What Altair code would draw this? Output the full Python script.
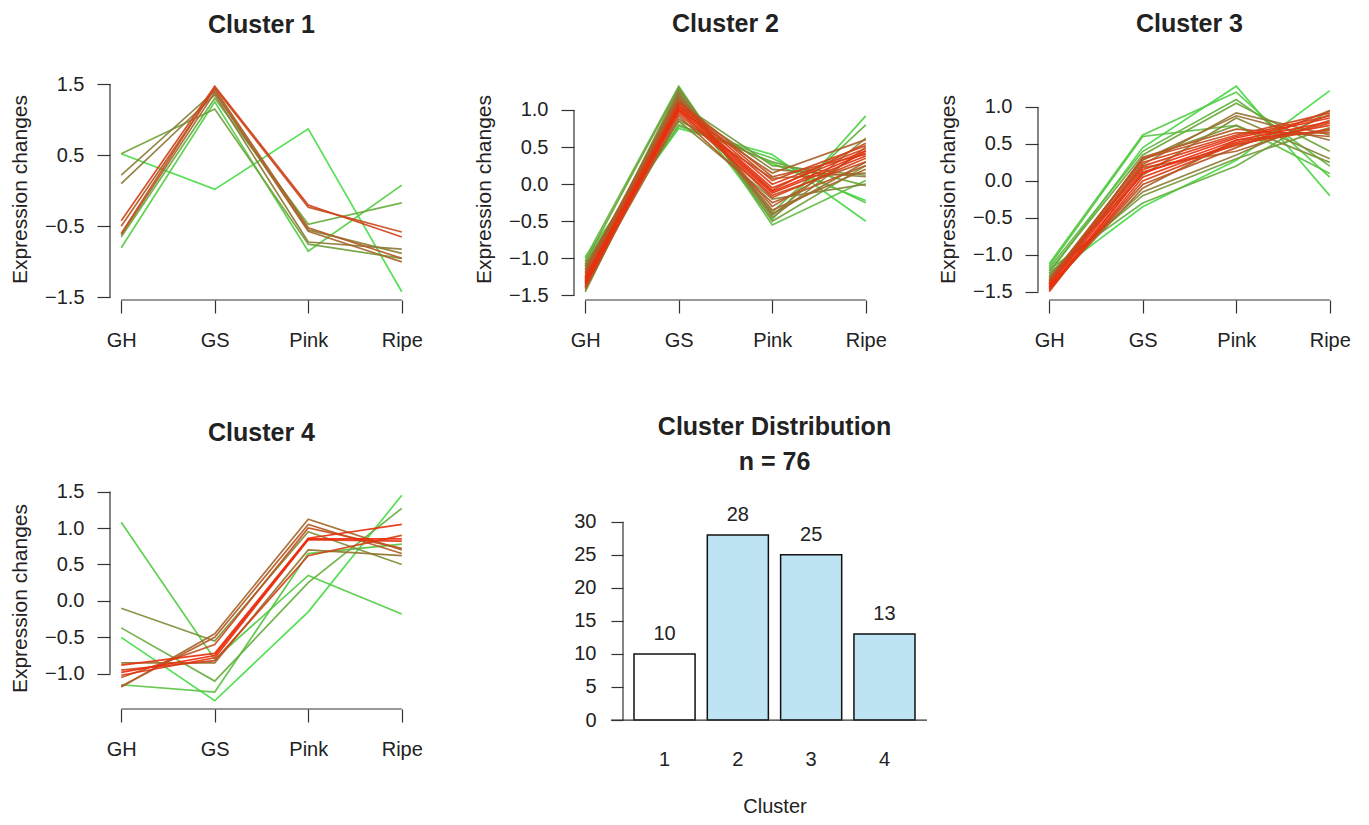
import altair as alt
import pandas as pd

FONT = "Liberation Sans"
TXT = "#222222"
AX = "#333333"

stages = ["GH", "GS", "Pink", "Ripe"]

# ---- Cluster 1 (10 genes) ----
c1_mem  = [0.30, 0.35, 0.45, 0.50, 0.60, 0.62, 0.70, 0.75, 0.80, 0.85]
c1_gh   = [0.52, -0.80, -0.65, 0.52, 0.22, 0.10, -0.62, -0.50, -0.60, -0.42]
c1_gs   = [0.02, 1.25, 1.30, 1.15, 1.40, 1.35, 1.38, 1.43, 1.45, 1.47]
c1_pink = [0.87, -0.85, -0.47, -0.75, -0.55, -0.72, -0.57, -0.52, -0.23, -0.20]
c1_ripe = [-1.42, 0.08, -0.17, -0.95, -0.88, -0.82, -1.00, -0.95, -0.58, -0.65]
c1_yticks = [-1.5, -1.0, -0.5, 0.0, 0.5, 1.0, 1.5]

# ---- Cluster 2 (28 genes) ----
c2_mem  = [0.95, 0.92, 0.90, 0.88, 0.86, 0.84, 0.82, 0.80, 0.78, 0.76, 0.74, 0.72, 0.70, 0.68,
           0.65, 0.62, 0.60, 0.58, 0.55, 0.52, 0.50, 0.47, 0.44, 0.40, 0.37, 0.34, 0.31, 0.28]
c2_gh   = [-1.32, -1.28, -1.35, -1.25, -1.38, -1.30, -1.22, -1.40, -1.18, -1.33, -1.27, -1.42, -1.15, -1.35,
           -1.20, -1.10, -1.38, -1.08, -1.25, -1.45, -1.05, -1.12, -1.30, -1.00, -1.03, -1.15, -0.98, -1.10]
c2_gs   = [1.02, 1.05, 0.98, 1.08, 1.00, 1.10, 0.95, 1.05, 1.12, 0.92, 1.15, 1.00, 1.18, 0.88,
           1.22, 1.05, 1.25, 0.85, 1.28, 1.10, 1.30, 0.80, 1.20, 1.32, 0.78, 1.15, 0.75, 0.85]
c2_pink = [-0.10, -0.05, -0.12, 0.00, -0.18, 0.05, -0.15, -0.08, 0.10, -0.25, -0.30, 0.15, -0.35, 0.08,
           -0.40, 0.20, -0.45, -0.20, -0.42, 0.25, -0.50, 0.30, -0.38, -0.55, 0.35, -0.48, 0.40, 0.28]
c2_ripe = [0.42, 0.45, 0.38, 0.48, 0.35, 0.52, 0.30, 0.55, 0.40, 0.25, 0.45, 0.60, 0.20, 0.15,
           0.30, 0.10, 0.50, 0.00, 0.62, 0.12, 0.25, -0.02, 0.80, 0.05, -0.25, 0.92, -0.50, -0.22]
c2_yticks = [-1.5, -1.0, -0.5, 0.0, 0.5, 1.0]

# ---- Cluster 3 (25 genes) ----
c3_mem  = [0.95, 0.93, 0.91, 0.89, 0.87, 0.85, 0.83, 0.80, 0.78, 0.75, 0.72, 0.70, 0.67,
           0.64, 0.61, 0.58, 0.55, 0.52, 0.48, 0.45, 0.42, 0.38, 0.35, 0.32, 0.30]
c3_gh   = [-1.45, -1.42, -1.48, -1.40, -1.46, -1.38, -1.50, -1.35, -1.43, -1.40, -1.36, -1.44, -1.32,
           -1.38, -1.30, -1.28, -1.34, -1.25, -1.22, -1.20, -1.18, -1.15, -1.12, -1.25, -1.30]
c3_gs   = [0.10, 0.15, 0.05, 0.20, 0.00, 0.25, 0.12, 0.30, -0.05, 0.32, 0.18, -0.10, 0.28,
           0.22, -0.15, 0.08, 0.30, -0.20, 0.35, -0.30, 0.40, 0.60, 0.62, 0.45, -0.35]
c3_pink = [0.55, 0.58, 0.52, 0.60, 0.50, 0.62, 0.48, 0.65, 0.45, 0.70, 0.40, 0.55, 0.88,
           0.92, 0.35, 0.85, 0.75, 0.30, 1.05, 0.20, 1.10, 0.75, 1.20, 1.28, 0.28]
c3_ripe = [0.80, 0.85, 0.75, 0.88, 0.70, 0.92, 0.78, 0.65, 0.95, 0.60, 0.82, 0.68, 0.55,
           0.62, 0.90, 0.30, 0.25, 0.72, 0.40, 0.95, 0.20, 0.10, 0.05, -0.20, 1.22]
c3_yticks = [-1.5, -1.0, -0.5, 0.0, 0.5, 1.0]

# ---- Cluster 4 (13 genes) ----
c4_mem  = [0.95, 0.92, 0.90, 0.85, 0.80, 0.75, 0.70, 0.65, 0.55, 0.45, 0.38, 0.35, 0.30]
c4_gh   = [-0.98, -0.88, -1.02, -0.95, -1.05, -1.17, -1.18, -0.85, -0.10, -0.37, -1.15, 1.08, -0.50]
c4_gs   = [-0.75, -0.72, -0.78, -0.82, -0.60, -0.50, -0.45, -0.85, -0.55, -1.10, -1.25, -0.80, -1.37]
c4_pink = [0.85, 0.86, 0.84, 0.62, 1.00, 1.05, 1.12, 0.70, 0.95, 0.25, 0.65, 0.35, -0.15]
c4_ripe = [0.85, 1.05, 0.82, 0.90, 0.72, 0.65, 0.70, 0.62, 0.50, 1.27, 0.78, -0.18, 1.45]
c4_yticks = [-1.0, -0.5, 0.0, 0.5, 1.0, 1.5]

# ---- Cluster distribution ----
bar_clusters = ["1", "2", "3", "4"]
bar_counts = [10, 28, 25, 13]
bar_yticks = [0, 5, 10, 15, 20, 25, 30]

W = 303
H = 222

mem_scale = alt.Scale(domain=[0.3, 0.62, 0.95],
                      range=["#46dc46", "#8c7a36", "#f02a0c"], interpolate="rgb")


def panel(title, mem, gh, gs, pink, ripe, yticks, toff):
    rows = []
    for i, m in enumerate(mem):
        for s, v in zip(stages, (gh[i], gs[i], pink[i], ripe[i])):
            rows.append({"gene": f"g{i:02d}", "m": m, "stage": s, "value": v})
    df = pd.DataFrame(rows).sort_values("m", kind="stable")
    vals = gh + gs + pink + ripe
    lo, hi = min(vals), max(vals)
    ext = 0.04 * (hi - lo)
    ydom = [lo - ext, hi + ext]

    xenc = alt.X("stage:N", sort=stages,
                 scale=alt.Scale(type="point", padding=0.12),
                 axis=alt.Axis(title=None, labelAngle=0, domain=False, ticks=True,
                               tickSize=13, tickColor=AX, tickWidth=1.2,
                               labelPadding=17, labelFontSize=20, labelFont=FONT,
                               labelColor=TXT, grid=False, labelOverlap=False))
    yenc = alt.Y("value:Q",
                 scale=alt.Scale(domain=ydom, nice=False, zero=False),
                 axis=alt.Axis(values=yticks, format=".1f", title="Expression changes",
                               titleX=-80, titleY=H / 2, titleAngle=-90,
                               titleBaseline="bottom", titleAlign="center",
                               titleFontSize=21, titleFont=FONT, titleFontWeight="normal",
                               titleColor=TXT, domain=False, tickSize=13, tickColor=AX,
                               tickWidth=1.2, labelPadding=13, labelFontSize=20,
                               labelFont=FONT, labelColor=TXT, grid=False,
                               labelOverlap=False, labelFlush=False))
    lines = alt.Chart(df).mark_line(strokeWidth=1.7, opacity=0.92).encode(
        x=xenc, y=yenc, detail="gene:N",
        color=alt.Color("m:Q", scale=mem_scale, legend=None),
    )
    axdf = pd.DataFrame({"k": [0]})
    yrule = alt.Chart(axdf).mark_rule(color=AX, strokeWidth=1.2).encode(
        x=alt.value(0), y=alt.datum(yticks[0]), y2=alt.datum(yticks[-1]))
    xrule = alt.Chart(axdf).mark_rule(color=AX, strokeWidth=1.2).encode(
        x=alt.datum(stages[0]), x2=alt.datum(stages[-1]), y=alt.datum(ydom[0]))
    return alt.layer(lines, yrule, xrule).properties(
        width=W, height=H,
        title=alt.TitleParams(title, fontSize=25, fontWeight="bold", font=FONT,
                              color=TXT, anchor="middle", frame="group",
                              baseline="bottom", offset=toff),
    )


p1 = panel("Cluster 1", c1_mem, c1_gh, c1_gs, c1_pink, c1_ripe, c1_yticks, 11)
p2 = panel("Cluster 2", c2_mem, c2_gh, c2_gs, c2_pink, c2_ripe, c2_yticks, 16)
p3 = panel("Cluster 3", c3_mem, c3_gh, c3_gs, c3_pink, c3_ripe, c3_yticks, 16)
p4 = panel("Cluster 4", c4_mem, c4_gh, c4_gs, c4_pink, c4_ripe, c4_yticks, 11)

# ---- bar chart ----
BH = 241.5
bar_df = pd.DataFrame({"cluster": bar_clusters, "count": bar_counts})
bx = alt.X("cluster:N", sort=bar_clusters,
           scale=alt.Scale(paddingInner=0.167, paddingOuter=0.15),
           axis=alt.Axis(title="Cluster", labelAngle=0, ticks=False, domain=False,
                         labelPadding=21, labelFontSize=20, labelFont=FONT, labelColor=TXT,
                         titlePadding=27, titleFontSize=20, titleFont=FONT,
                         titleFontWeight="normal", titleColor=TXT, grid=False))
by = alt.Y("count:Q", scale=alt.Scale(domain=[-1.28, 35.25], nice=False, zero=False),
           axis=alt.Axis(values=bar_yticks, title=None, domain=False, tickSize=12,
                         tickColor=AX, tickWidth=1.2, labelPadding=15, labelFontSize=20,
                         labelFont=FONT, labelColor=TXT, grid=False, labelOverlap=False,
                         labelFlush=False))
bars = alt.Chart(bar_df).mark_bar(stroke="#111111", strokeWidth=1.5).encode(
    x=bx, y=by, y2=alt.datum(0),
    fill=alt.Fill("cluster:N", scale=alt.Scale(domain=bar_clusters,
                  range=["#ffffff", "#bee3f3", "#bee3f3", "#bee3f3"]), legend=None),
)
labels = alt.Chart(bar_df).mark_text(dy=-14, baseline="alphabetic", fontSize=20,
                                     font=FONT, color=TXT).encode(
    x=alt.X("cluster:N", sort=bar_clusters), y="count:Q", text="count:Q")
axdf = pd.DataFrame({"k": [0]})
zero_rule = alt.Chart(axdf).mark_rule(color=AX, strokeWidth=1.2).encode(
    y=alt.datum(0), x=alt.value(-12), x2=alt.value(W + 1))
bar_yrule = alt.Chart(axdf).mark_rule(color=AX, strokeWidth=1.2).encode(
    x=alt.value(0), y=alt.datum(bar_yticks[0]), y2=alt.datum(bar_yticks[-1]))

p5 = alt.layer(bars, labels, zero_rule, bar_yrule).properties(
    width=W, height=BH,
    title=alt.TitleParams(["Cluster Distribution", f"n = {sum(bar_counts)}"],
                          fontSize=25, fontWeight="bold", font=FONT, color=TXT,
                          anchor="middle", frame="group", baseline="bottom",
                          lineHeight=35, offset=-13),
)

row1 = alt.hconcat(p1, p2, p3, spacing=49)
row2 = alt.hconcat(p4, p5, spacing=150)
chart = alt.vconcat(row1, row2, spacing=65).properties(
    padding={"left": 0, "top": 4, "right": 5, "bottom": 5},
    background="white",
).configure_view(stroke=None)

chart.save("out.html", embed_options={"renderer": "svg", "actions": False})
